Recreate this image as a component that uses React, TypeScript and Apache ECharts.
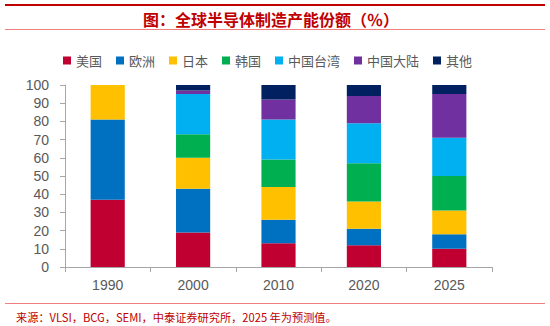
import React, { useEffect, useRef } from "react";
import * as echarts from "echarts";

const categories = ["1990", "2000", "2010", "2020", "2025"];
const seriesNames = ["美国", "欧洲", "日本", "韩国", "中国台湾", "中国大陆", "其他"];
const usa = [37, 19, 13, 12, 10];
const europe = [44, 24, 13, 9, 8];
const japan = [19, 17, 18, 15, 13];
const korea = [0, 13, 15, 21, 19];
const taiwan = [0, 22, 22, 22, 21];
const mainland = [0, 2, 11, 15, 24];
const others = [0, 3, 8, 6, 5];
const yTicks = [0, 10, 20, 30, 40, 50, 60, 70, 80, 90, 100];
const colors = ["#C00030", "#0070C0", "#FFC000", "#00B050", "#00B0F0", "#7030A0", "#002060"];
const titleText = "图：全球半导体制造产能份额（％）";
const sourceText = "来源：VLSI，BCG，SEMI，中泰证券研究所，2025 年为预测值。";

export default function App() {
  const ref = useRef<HTMLDivElement>(null);
  useEffect(() => {
    if (!ref.current) return;
    const chart = echarts.init(ref.current, null, { renderer: "svg" });
    const values = [usa, europe, japan, korea, taiwan, mainland, others];
    const cjk = '"Noto Sans CJK SC", sans-serif';
    chart.setOption({
      animation: false,
      backgroundColor: "#ffffff",
      color: colors,
      graphic: [
        { type: "rect", shape: { x: 5, y: 4, width: 540, height: 2 }, style: { fill: "#C00000" } },
        {
          type: "text",
          x: 271,
          y: 18.5,
          style: {
            text: titleText,
            fill: "#C00000",
            fontSize: 16,
            fontWeight: "bold",
            fontFamily: cjk,
            align: "center",
            verticalAlign: "middle",
          },
        },
        { type: "line", shape: { x1: 5, y1: 29.5, x2: 545, y2: 29.5 }, style: { stroke: "#F08080", lineWidth: 1 } },
        { type: "line", shape: { x1: 5, y1: 303.5, x2: 545, y2: 303.5 }, style: { stroke: "#F08080", lineWidth: 1 } },
        {
          type: "text",
          x: 16,
          y: 317,
          style: {
            text: sourceText,
            fill: "#C00000",
            fontSize: 11.2,
            fontFamily: cjk,
            verticalAlign: "middle",
          },
        },
      ],
      legend: {
        left: 58,
        top: 49,
        itemWidth: 8,
        itemHeight: 8,
        itemGap: 14,
        icon: "rect",
        data: seriesNames,
        textStyle: { color: "#595959", fontSize: 13, fontFamily: cjk },
      },
      grid: { left: 65, right: 58, top: 85, bottom: 59 },
      xAxis: {
        type: "category",
        data: categories,
        axisLine: { lineStyle: { color: "#A6A6A6" } },
        axisTick: { show: true, length: 5, lineStyle: { color: "#A6A6A6" } },
        axisLabel: { color: "#595959", fontSize: 14, fontFamily: "Liberation Sans, Arial", margin: 11 },
      },
      yAxis: {
        type: "value",
        min: 0,
        max: 100,
        interval: 10,
        axisLine: { show: true, lineStyle: { color: "#A6A6A6" } },
        axisTick: { show: true, length: 5, lineStyle: { color: "#A6A6A6" } },
        splitLine: { show: false },
        axisLabel: {
          color: "#595959",
          fontSize: 14,
          fontFamily: "Liberation Sans, Arial",
          margin: 16,
          formatter: (v: number) => (yTicks.includes(v) ? String(v) : ""),
        },
      },
      series: seriesNames.map((name, i) => ({
        name,
        type: "bar",
        stack: "total",
        barWidth: "40%",
        data: values[i],
        itemStyle: { color: colors[i] },
      })),
    });
    return () => chart.dispose();
  }, []);
  return <div ref={ref} style={{ width: 550, height: 326, position: "absolute", left: 0, top: 0 }} />;
}
